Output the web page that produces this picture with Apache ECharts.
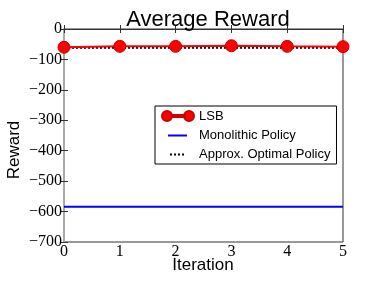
<!DOCTYPE html>
<html><head><meta charset="utf-8">
<script src="https://cdn.jsdelivr.net/npm/echarts@6/dist/echarts.min.js"></script>
<style>html,body{margin:0;padding:0;background:#fff}#c{width:381px;height:282px}</style>
</head><body><div id="c"></div>
<script>
const iterations = [0, 1, 2, 3, 4, 5];
const lsb = [-60, -57, -57, -55, -57, -58];
const monolithic = [-584, -584, -584, -584, -584, -584];
const optimal = [-62, -62, -62, -62, -62, -62];
const yTicks = [0, -100, -200, -300, -400, -500, -600, -700];

const chart = echarts.init(document.getElementById('c'));
const serif = 'Liberation Serif';
const sans = 'Liberation Sans';
const fmt = v => (v < 0 ? '\u2212' + Math.abs(v) : String(v));
const pair = arr => arr.map((v, i) => [iterations[i], v]);
const lsbIcon = 'path://M0,0M32,12M0,6a5,5 0 1,0 10,0a5,5 0 1,0 -10,0zM9,5h14v2h-14zM22,6a5,5 0 1,0 10,0a5,5 0 1,0 -10,0z';
const monoIcon = 'path://M0,0M32,12M6,5h19v2h-19z';
const optIcon = 'path://M0,0M32,12M8,5h2v2h-2zM12,5h2v2h-2zM16,5h2v2h-2zM20,5h2v2h-2z';
chart.setOption({
  animation: false,
  title: { text: 'Average Reward', left: 203, top: 4, textAlign: 'center',
    textStyle: { fontFamily: sans, fontSize: 22, fontWeight: 'normal', color: '#000' } },
  grid: { left: 64, right: 38, top: 29, bottom: 40, outerBoundsMode: 'none', containLabel: false,
    show: true, borderColor: '#333', borderWidth: 1 },
  graphic: [
    { type: 'text', x: 14, y: 150, rotation: Math.PI / 2,
      style: { text: 'Reward', fontFamily: sans, fontSize: 17, fill: '#000', align: 'center', verticalAlign: 'middle' } },
    { type: 'text', x: 203, y: 265,
      style: { text: 'Iteration', fontFamily: sans, fontSize: 17, fill: '#000', align: 'center', verticalAlign: 'middle' } }
  ],
  legend: {
    orient: 'vertical', left: 155, top: 106, padding: [3, 6, 3, 6],
    borderColor: '#000', borderWidth: 1, backgroundColor: '#fff',
    itemWidth: 32, itemHeight: 12, itemGap: 6,
    textStyle: { fontFamily: sans, fontSize: 13, color: '#000' },
    data: [
      { name: 'LSB', icon: lsbIcon, itemStyle: { color: '#ff0000' } },
      { name: 'Monolithic Policy', icon: monoIcon, itemStyle: { color: '#0000ff' } },
      { name: 'Approx. Optimal Policy', icon: optIcon, itemStyle: { color: '#000' } }
    ]
  },
  xAxis: [{
    type: 'value', min: 0, max: 5, interval: 1,
    axisLine: { lineStyle: { color: '#333' } },
    axisTick: { inside: true, length: 4, lineStyle: { color: '#333' } },
    axisLabel: { fontFamily: serif, fontSize: 16, color: '#000', margin: 2 },
    splitLine: { show: false }
  }, {
    type: 'value', min: 0, max: 5, interval: 1, position: 'top',
    axisLine: { lineStyle: { color: '#333' } },
    axisTick: { inside: true, length: 4, lineStyle: { color: '#333' } },
    axisLabel: { show: false }, splitLine: { show: false }
  }],
  yAxis: [{
    type: 'value', min: -700, max: 0, interval: 100,
    axisLine: { show: true, lineStyle: { color: '#333' } },
    axisTick: { show: true, inside: true, length: 4, lineStyle: { color: '#333' } },
    axisLabel: { fontFamily: serif, fontSize: 16, color: '#000', margin: 2,
      formatter: v => yTicks.includes(v) ? fmt(v) : '' },
    splitLine: { show: false }
  }, {
    type: 'value', min: -700, max: 0, interval: 100, position: 'right',
    axisLine: { show: true, lineStyle: { color: '#aaa', width: 2 } },
    axisTick: { show: true, inside: true, length: 4, lineStyle: { color: '#333' } },
    axisLabel: { show: false }, splitLine: { show: false }
  }],
  series: [
    { name: 'LSB', type: 'line', data: pair(lsb), symbol: 'circle', symbolSize: 12,
      lineStyle: { color: '#ff0000', width: 2 }, itemStyle: { color: '#ff0000', borderColor: '#cc0000', borderWidth: 1 }, z: 5 },
    { name: 'Monolithic Policy', type: 'line', data: pair(monolithic), symbol: 'none', showSymbol: false,
      lineStyle: { color: '#0000ff', width: 2 }, itemStyle: { color: '#0000ff' } },
    { name: 'Approx. Optimal Policy', type: 'line', data: pair(optimal), symbol: 'none', showSymbol: false,
      lineStyle: { color: '#000', width: 2, type: [2, 2] }, itemStyle: { color: '#000' }, z: 4 }
  ]
});
</script></body></html>
